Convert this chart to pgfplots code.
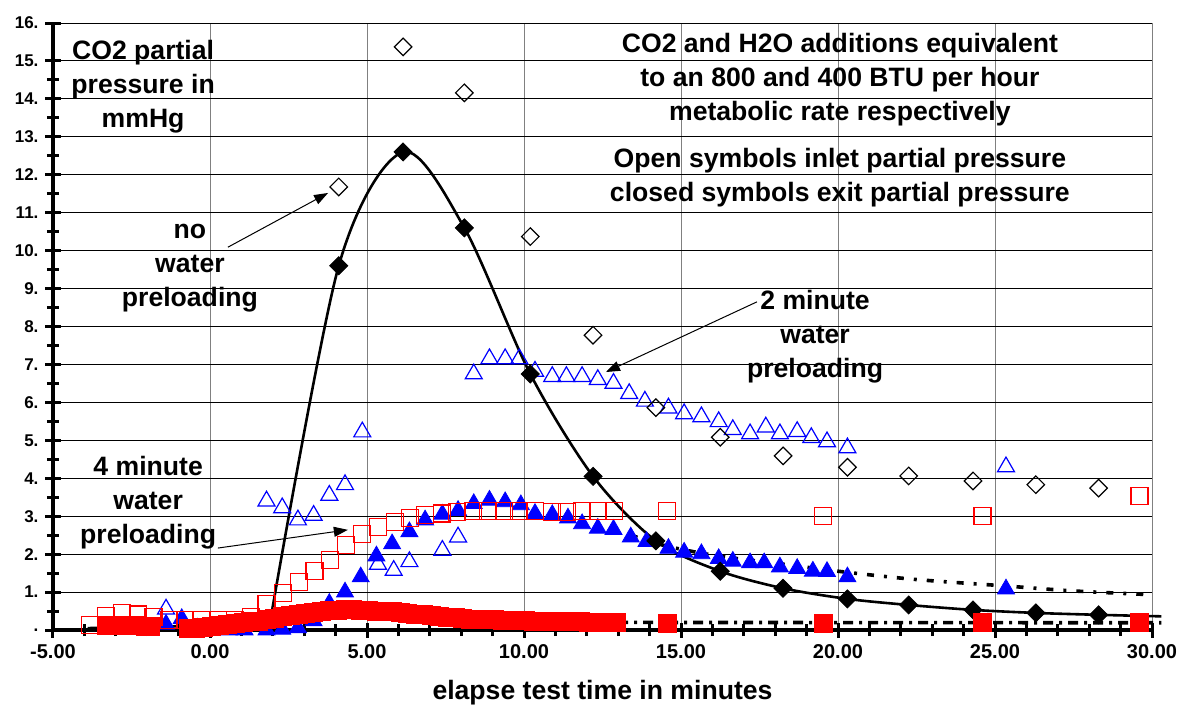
\documentclass[border=0pt]{standalone}
\usepackage{fontspec}
\setmainfont{Liberation Sans}
\usepackage{pgfplots}
\pgfplotsset{compat=1.18}
\usetikzlibrary{arrows.meta}
\newcommand{\anno}{\bfseries\fontsize{13.3}{17}\selectfont}

\begin{document}
\begin{tikzpicture}
\useasboundingbox (-26.5pt,-39pt) rectangle (563pt,315pt);
\begin{axis}[
  at={(0,0)}, anchor=south west,
  scale only axis, width=549.5pt, height=303.5pt,
  xmin=-5, xmax=30, ymin=0, ymax=16,
  axis x line*=bottom, axis y line*=left,
  axis line style={line width=2pt, -},
  xtick={-5,0,...,30},
  xticklabels={-5.00,0.00,5.00,10.00,15.00,20.00,25.00,30.00},
  minor x tick num=4,
  ytick={0,...,15},
  yticklabels={.,1.,2.,3.,4.,5.,6.,7.,8.,9.,10.,11.,12.,13.,14.,15.},
  extra y ticks={16},
  extra y tick labels={16.},
  extra y tick style={major grid style={gray, line width=0.5pt}},
  minor y tick num=1,
  tick align=center,
  major tick length=7.5pt, minor tick length=6pt,
  every tick/.append style={black, line width=1.5pt},
  xmajorgrids, ymajorgrids,
  x grid style={gray, line width=0.5pt},
  y grid style={black, line width=0.5pt},
  xticklabel style={font=\bfseries\fontsize{10}{12}\selectfont},
  yticklabel style={font=\bfseries\fontsize{8.5}{10}\selectfont},
  xlabel={elapse test time in minutes},
  xlabel style={font=\bfseries\fontsize{13.3}{16}\selectfont,
    at={(axis description cs:0.5,0)}, anchor=center, yshift=-31.5pt},
  clip=false,
]
% 2 minute preloading, inlet (open triangles)
\addplot[only marks, blue, mark=triangle, mark size=4.9pt, mark options={line width=0.6pt}] coordinates {
(-1.4,0.55)(1.8,3.4)(2.3,3.22)(2.8,2.9)(3.3,3.02)(3.8,3.55)(4.3,3.83)(4.85,5.22)
(5.35,1.73)(5.85,1.57)(6.35,1.8)(7.4,2.1)(7.9,2.45)(8.4,6.75)(8.9,7.15)(9.4,7.15)
(9.85,7.15)(10.35,6.82)(10.9,6.68)(11.35,6.68)(11.85,6.68)(12.35,6.6)(12.85,6.5)
(13.35,6.23)(13.85,6.03)(14.6,5.85)(15.1,5.7)(15.65,5.62)(16.2,5.49)(16.65,5.28)
(17.2,5.17)(17.7,5.35)(18.15,5.17)(18.7,5.23)(19.15,5.07)(19.65,4.96)(20.3,4.8)
(25.35,4.3)};
% 2 minute preloading, exit (filled triangles)
\addplot[only marks, blue, mark=triangle*, mark size=4.9pt, mark options={fill=blue}] coordinates {
(-1.4,0.15)(-0.9,0.3)(-0.4,0.05)(0.1,0.02)(0.6,0.0)(1.1,0.0)(1.8,0.0)(2.3,0.02)
(2.8,0.06)(3.3,0.24)(3.8,0.7)(4.3,1.0)(4.8,1.4)(5.3,1.95)(5.8,2.27)(6.35,2.59)
(6.85,2.9)(7.4,3.05)(7.9,3.15)(8.4,3.33)(8.9,3.42)(9.4,3.38)(9.9,3.3)(10.35,3.07)
(10.9,3.04)(11.4,2.95)(11.85,2.8)(12.35,2.68)(12.85,2.65)(13.4,2.45)(13.9,2.33)
(14.6,2.15)(15.1,2.05)(15.65,2.01)(16.2,1.88)(16.65,1.81)(17.2,1.77)(17.65,1.77)
(18.15,1.66)(18.7,1.62)(19.2,1.55)(19.65,1.54)(20.3,1.4)(25.35,1.08)};
% no preloading, inlet (open diamonds)
\addplot[only marks, black, mark=square, mark size=3.1pt, mark options={rotate=45, line width=0.6pt}] coordinates {
(4.1,11.68)(6.15,15.37)(8.1,14.16)(10.2,10.37)(12.2,7.77)(14.2,5.86)(16.25,5.08)
(18.25,4.59)(20.3,4.29)(22.25,4.06)(24.3,3.93)(26.3,3.83)(28.3,3.74)};
% 4 minute preloading, inlet (open squares)
\addplot[only marks, red, mark=square, mark size=4.25pt, mark options={line width=0.6pt}] coordinates {
(-3.82,0.13)(-3.3,0.37)(-2.8,0.44)(-2.3,0.41)(-1.8,0.34)(-1.3,0.27)(-0.8,0.26)
(-0.27,0.26)(0.26,0.26)(0.8,0.26)(1.3,0.35)(1.8,0.68)(2.33,0.97)(2.84,1.27)
(3.33,1.56)(3.82,1.85)(4.33,2.24)(4.85,2.53)(5.36,2.72)(5.9,2.84)(6.37,2.95)
(6.85,3.03)(7.39,3.07)(7.87,3.1)(8.38,3.13)(8.86,3.13)(9.36,3.13)(9.85,3.13)
(10.35,3.13)(10.88,3.12)(11.36,3.12)(11.85,3.13)(12.36,3.13)(12.86,3.13)
(14.55,3.13)(19.53,3.0)(24.6,3.0)(29.6,3.53)};
% no preloading, exit: fitted curve
\addplot[black, line width=1.3pt, no marks] coordinates {(-3.9,0.05)(1.9,0.15)};
\addplot[black, line width=1.3pt, smooth, no marks] coordinates {
(1.9,0.15)(4.1,9.6)(6.15,12.6)(8.1,10.6)(10.2,6.75)
(12.2,4.05)(14.2,2.35)(16.25,1.55)(18.25,1.1)(20.3,0.82)(22.25,0.66)(24.3,0.53)
(26.3,0.45)(28.3,0.4)(30.3,0.36)};
% no preloading, exit (filled diamonds)
\addplot[only marks, black, mark=square*, mark size=3.2pt, mark options={rotate=45}] coordinates {
(4.1,9.6)(6.15,12.6)(8.1,10.6)(10.2,6.75)(12.2,4.05)(14.2,2.35)(16.25,1.55)
(18.25,1.1)(20.3,0.82)(22.25,0.66)(24.3,0.53)(26.3,0.45)(28.3,0.4)};
% 2 minute preloading, exit: fitted curve
\addplot[black, line width=1.8pt, smooth, dash pattern=on 3.5pt off 5pt on 1.5pt off 5pt] coordinates {
(13.4,2.5)(14.6,2.2)(16.2,1.95)(18.2,1.74)(20.3,1.52)(22.5,1.33)(25.35,1.16)(27.5,1.03)(30,0.93)};
% 4 minute preloading, exit: fitted curve
\addplot[black, line width=1.8pt, dash pattern=on 5pt off 3pt on 1.5pt off 3pt] coordinates {
(13,0.2)(30.3,0.19)};
% 4 minute preloading, exit (filled squares)
\addplot[only marks, red, mark=square*, mark size=4.5pt] coordinates {
(-3.3,0.12)(-3.05,0.13)(-2.8,0.13)(-2.55,0.12)(-2.3,0.11)(-2.05,0.1)(-1.9,0.1)
(-0.7,0.04)(-0.45,0.05)(-0.2,0.07)(0.05,0.1)(0.3,0.12)(0.55,0.15)(0.8,0.18)
(1.05,0.2)(1.3,0.22)(1.55,0.24)(1.8,0.27)(2.05,0.31)(2.3,0.35)(2.55,0.39)
(2.8,0.42)(3.05,0.45)(3.3,0.47)(3.55,0.49)(3.8,0.51)(4.05,0.52)(4.3,0.53)
(4.55,0.53)(4.8,0.52)(5.05,0.51)(5.3,0.5)(5.55,0.49)(5.8,0.48)(6.05,0.46)
(6.3,0.44)(6.55,0.42)(6.8,0.4)(7.05,0.38)(7.3,0.36)(7.55,0.34)(7.8,0.32)
(8.05,0.3)(8.3,0.29)(8.55,0.28)(8.8,0.27)(9.05,0.27)(9.3,0.26)(9.55,0.26)
(9.8,0.25)(10.05,0.25)(10.3,0.24)(10.55,0.24)(10.8,0.23)(11.05,0.23)(11.3,0.22)
(11.55,0.22)(11.8,0.22)(12.05,0.21)(12.3,0.21)(12.55,0.2)(12.8,0.2)(12.95,0.2)
(14.57,0.18)(19.54,0.18)(24.6,0.19)(29.6,0.21)};

\node[font=\anno, align=center] at (axis cs:-2.13,14.31) {CO2 partial\\pressure in\\mmHg};
\node[font=\anno, align=center] at (axis cs:20.06,14.52) {CO2 and H2O additions equivalent\\to an 800 and 400 BTU per hour\\metabolic rate respectively};
\node[font=\anno, align=center] at (axis cs:20.06,11.92) {Open symbols inlet partial pressure\\closed symbols exit partial pressure};
\node[font=\anno, align=center] at (axis cs:-0.64,9.54) {no\\water\\preloading};
\node[font=\anno, align=center] at (axis cs:19.27,7.72) {2 minute\\water\\preloading};
\node[font=\anno, align=center] at (axis cs:-1.97,3.35) {4 minute\\water\\preloading};
\draw[-{Triangle[length=7pt,width=5pt]}, line width=0.5pt] (axis cs:0.57,10.09) -- (axis cs:3.76,11.52);
\draw[-{Triangle[length=7pt,width=5pt]}, line width=0.5pt] (axis cs:17.42,8.65) -- (axis cs:12.61,6.8);
\draw[-{Triangle[length=7pt,width=5pt]}, line width=0.5pt] (axis cs:0.25,2.16) -- (axis cs:4.39,2.64);
\end{axis}
\end{tikzpicture}
\end{document}
